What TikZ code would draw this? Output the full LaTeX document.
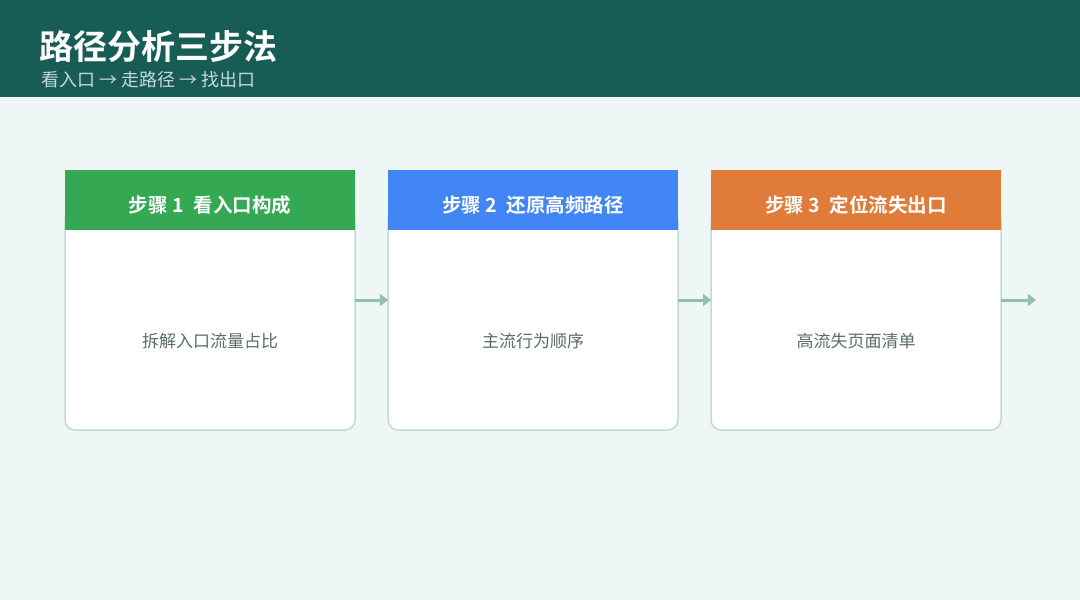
\documentclass[tikz,border=0pt]{standalone}
\usepackage{fontspec}
\setmainfont{Noto Sans CJK SC}
\newfontfamily\cjkb{Noto Sans CJK SC Bold}
\usetikzlibrary{arrows.meta}
\definecolor{hdr}{HTML}{175C55}
\definecolor{bg}{HTML}{EEF7F5}
\definecolor{cardline}{HTML}{BFDDD5}
\definecolor{arrowc}{HTML}{93BFB3}
\definecolor{gA}{HTML}{34A853}
\definecolor{bA}{HTML}{4285F4}
\definecolor{oA}{HTML}{E07B39}
\definecolor{bodytxt}{HTML}{5A6E6A}
\definecolor{subtxt}{HTML}{C9D8D5}
\tikzset{
  cardbody/.style={draw=cardline, line width=1.5pt, fill=white, rounded corners=10pt},
  cardhead/.style={inner sep=0pt, minimum width=290pt, minimum height=60pt, fill=#1},
  headlabel/.style={inner sep=0pt, text=white, font=\cjkb\fontsize{19.5}{22}\selectfont},
  bodylabel/.style={text=bodytxt, font=\fontsize{17}{20}\selectfont, inner sep=0pt},
  flow/.style={draw=arrowc, line width=3pt, -{Triangle[length=8pt,width=12pt]}},
}
\begin{document}
\begin{tikzpicture}[x=1pt,y=-1pt]
\useasboundingbox (0,0) rectangle (1080,600);
\fill[bg] (0,0) rectangle (1080,600);
\fill[hdr] (0,0) rectangle (1080,97);
\node[anchor=west, inner sep=0pt, text=white, font=\cjkb\fontsize{34}{38}\selectfont] (title) at (39,47) {路径分析三步法};
\node[anchor=west, inner sep=0pt, text=subtxt, font=\fontsize{18}{20}\selectfont] (subtitle) at (41,80) {看入口\hspace{4pt}→\hspace{4pt}走路径\hspace{4pt}→\hspace{4pt}找出口};
% cards
\foreach \i/\x/\c/\h/\b in {1/65/gA/{步骤 1\enspace 看入口构成}/拆解入口流量占比, 2/388/bA/{步骤 2\enspace 还原高频路径}/主流行为顺序, 3/711/oA/{步骤 3\enspace 定位流失出口}/高流失页面清单}{
  \draw[cardbody] (\x,210) rectangle (\x+290,430);
  \coordinate (l\i) at (\x,300);
  \coordinate (r\i) at (\x+290,300);
  \node[cardhead=\c, anchor=north west] (h\i) at (\x,170) {};
  \node[headlabel] (ht\i) at (\x+145,205) {\h};
  \node[bodylabel] (t\i) at (\x+145,341) {\b};
}
\coordinate (end) at (1036,300);
\draw[flow] (r1) -- (l2);
\draw[flow] (r2) -- (l3);
\draw[flow] (r3) -- (end);
\end{tikzpicture}
\end{document}
